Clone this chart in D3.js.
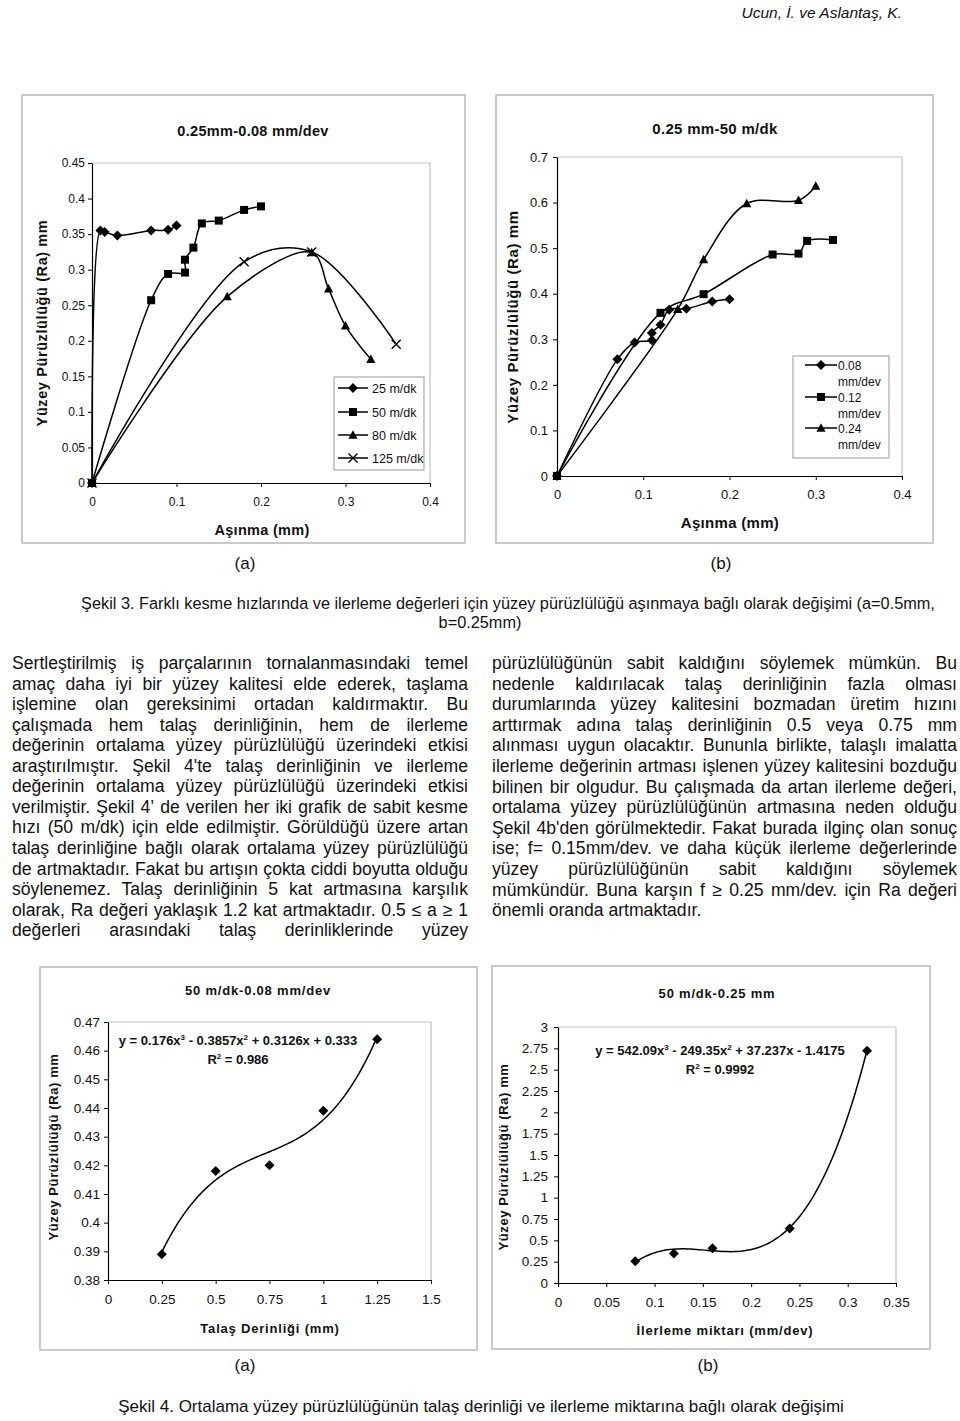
<!DOCTYPE html>
<html lang="tr">
<head>
<meta charset="UTF-8">
<title>Şekil 3 ve Şekil 4</title>
<script src="https://d3js.org/d3.v7.min.js"></script>
<style>
  body { margin: 0; background: #fff; }
  svg text { font-family: "Liberation Sans", Arial, sans-serif; fill: #111; }
</style>
</head>
<body>
<div id="page"></div>
<script>
// ---- Şekil 3a: 0.25mm-0.08 mm/dev (kesme hızları) ----
var wear25 = [0, 0.01, 0.015, 0.03, 0.07, 0.09, 0.1];
var ra25   = [0, 0.355, 0.353, 0.348, 0.355, 0.356, 0.362];
var wear50 = [0, 0.07, 0.09, 0.11, 0.11, 0.12, 0.13, 0.15, 0.18, 0.2];
var ra50   = [0, 0.257, 0.294, 0.296, 0.314, 0.331, 0.365, 0.369, 0.384, 0.389];
var wear80 = [0, 0.16, 0.26, 0.28, 0.3, 0.33];
var ra80   = [0, 0.262, 0.324, 0.273, 0.221, 0.174];
var wear125 = [0, 0.18, 0.26, 0.36];
var ra125   = [0, 0.311, 0.325, 0.195];
var speedNames = ["25 m/dk", "50 m/dk", "80 m/dk", "125 m/dk"];

// ---- Şekil 3b: 0.25 mm-50 m/dk (ilerleme değerleri) ----
var wear008 = [0, 0.07, 0.09, 0.11, 0.11, 0.12, 0.13, 0.15, 0.18, 0.2];
var ra008   = [0, 0.256, 0.293, 0.298, 0.314, 0.332, 0.365, 0.367, 0.383, 0.388];
var wear012 = [0, 0.12, 0.17, 0.25, 0.28, 0.29, 0.32];
var ra012   = [0, 0.358, 0.399, 0.486, 0.488, 0.516, 0.518];
var wear024 = [0, 0.14, 0.17, 0.22, 0.28, 0.3];
var ra024   = [0, 0.366, 0.475, 0.598, 0.605, 0.636];
var feedNames = [["0.08", "mm/dev"], ["0.12", "mm/dev"], ["0.24", "mm/dev"]];

// ---- Şekil 4a: 50 m/dk-0.08 mm/dev ----
var depth  = [0.25, 0.5, 0.75, 1, 1.25];
var raDepth = [0.389, 0.418, 0.42, 0.439, 0.464];
var fitDepth = [0.176, -0.3857, 0.3126, 0.333];   // y = ax3 + bx2 + cx + d
var r2Depth = "0.986";

// ---- Şekil 4b: 50 m/dk-0.25 mm ----
var feed   = [0.08, 0.12, 0.16, 0.24, 0.32];
var raFeed = [0.255, 0.345, 0.407, 0.638, 2.722];
var fitFeed = [542.09, -249.35, 37.237, -1.4175];
var r2Feed = "0.9992";

// tick labels
var xTicks3 = [0, 0.1, 0.2, 0.3, 0.4];
var yTicks3a = [0, 0.05, 0.1, 0.15, 0.2, 0.25, 0.3, 0.35, 0.4, 0.45];
var yTicks3b = [0, 0.1, 0.2, 0.3, 0.4, 0.5, 0.6, 0.7];
var xTicks4a = [0, 0.25, 0.5, 0.75, 1, 1.25, 1.5];
var yTicks4a = [0.38, 0.39, 0.4, 0.41, 0.42, 0.43, 0.44, 0.45, 0.46, 0.47];
var xTicks4b = [0, 0.05, 0.1, 0.15, 0.2, 0.25, 0.3, 0.35];
var yTicks4b = [0, 0.25, 0.5, 0.75, 1, 1.25, 1.5, 1.75, 2, 2.25, 2.5, 2.75, 3];

var leftText = [
  "Sertleştirilmiş iş parçalarının tornalanmasındaki temel",
  "amaç daha iyi bir yüzey kalitesi elde ederek, taşlama",
  "işlemine olan gereksinimi ortadan kaldırmaktır. Bu",
  "çalışmada hem talaş derinliğinin, hem de ilerleme",
  "değerinin ortalama yüzey pürüzlülüğü üzerindeki etkisi",
  "araştırılmıştır. Şekil 4'te talaş derinliğinin ve ilerleme",
  "değerinin ortalama yüzey pürüzlülüğü üzerindeki etkisi",
  "verilmiştir. Şekil 4’ de verilen her iki grafik de sabit kesme",
  "hızı (50 m/dk) için elde edilmiştir. Görüldüğü üzere artan",
  "talaş derinliğine bağlı olarak ortalama yüzey pürüzlülüğü",
  "de artmaktadır. Fakat bu artışın çokta ciddi boyutta olduğu",
  "söylenemez. Talaş derinliğinin 5 kat artmasına karşılık",
  "olarak, Ra değeri yaklaşık 1.2 kat artmaktadır. 0.5 ≤ a ≥ 1",
  "değerleri arasındaki talaş derinliklerinde yüzey"
];
var rightText = [
  "pürüzlülüğünün sabit kaldığını söylemek mümkün. Bu",
  "nedenle kaldırılacak talaş derinliğinin fazla olması",
  "durumlarında yüzey kalitesini bozmadan üretim hızını",
  "arttırmak adına talaş derinliğinin 0.5 veya 0.75 mm",
  "alınması uygun olacaktır. Bununla birlikte, talaşlı imalatta",
  "ilerleme değerinin artması işlenen yüzey kalitesini bozduğu",
  "bilinen bir olgudur. Bu çalışmada da artan ilerleme değeri,",
  "ortalama yüzey pürüzlülüğünün artmasına neden olduğu",
  "Şekil 4b'den görülmektedir. Fakat burada ilginç olan sonuç",
  "ise; f= 0.15mm/dev. ve daha küçük ilerleme değerlerinde",
  "yüzey pürüzlülüğünün sabit kaldığını söylemek",
  "mümkündür. Buna karşın f ≥ 0.25 mm/dev. için Ra değeri",
  "önemli oranda artmaktadır."
];

var page = d3.select("#page").append("svg")
  .attr("width", 960).attr("height", 1421).style("display", "block");
page.append("rect").attr("width", 960).attr("height", 1421).attr("fill", "#fff");

var fmt = function(d) { return String(+d.toFixed(2)); };
var yLabel = "Yüzey Pürüzlülüğü (Ra) mm";

function symPath(type, r) {
  if (type === "diamond") return "M0," + (-r) + "L" + r + ",0L0," + r + "L" + (-r) + ",0Z";
  if (type === "square") return "M" + (-r) + "," + (-r) + "H" + r + "V" + r + "H" + (-r) + "Z";
  if (type === "triangle") return "M0," + (-r * 1.05) + "L" + r + "," + (r * 0.8) + "L" + (-r) + "," + (r * 0.8) + "Z";
  return "M" + (-r) + "," + (-r) + "L" + r + "," + r + "M" + (-r) + "," + r + "L" + r + "," + (-r);
}
function drawSym(g, type, r, px, py) {
  var p = g.append("path").attr("d", symPath(type, r))
    .attr("transform", "translate(" + px + "," + py + ")");
  if (type === "x") p.attr("fill", "none").attr("stroke", "#000").attr("stroke-width", 1.4);
  else p.attr("fill", "#000");
}

function drawChart(c) {
  var g = page.append("g");
  g.append("rect").attr("x", c.frame[0]).attr("y", c.frame[1])
    .attr("width", c.frame[2]).attr("height", c.frame[3])
    .attr("fill", "none").attr("stroke", "#b8b8b8").attr("stroke-width", 1.5);

  var x = d3.scaleLinear().domain(c.xDom).range([c.plot[0], c.plot[1]]);
  var y = d3.scaleLinear().domain(c.yDom).range([c.plot[3], c.plot[2]]);

  g.append("path")
    .attr("d", "M" + c.plot[0] + "," + c.plot[2] + "H" + c.plot[1] + "V" + c.plot[3])
    .attr("fill", "none").attr("stroke", "#c4c4c4").attr("stroke-width", 1.2);

  var ya = g.append("g").attr("transform", "translate(" + c.plot[0] + ",0)")
    .call(d3.axisLeft(y).tickValues(c.yTicks).tickFormat(fmt).tickSize(4).tickSizeOuter(0).tickPadding(c.yPad));
  var xa = g.append("g").attr("transform", "translate(0," + c.plot[3] + ")")
    .call(d3.axisBottom(x).tickValues(c.xTicks).tickFormat(fmt).tickSize(4).tickSizeOuter(0).tickPadding(c.xPad));
  [ya, xa].forEach(function(a) {
    a.selectAll("text").style("font-size", c.tickFs + "px");
    a.select(".domain").attr("stroke", "#000").attr("stroke-width", 1.2);
    a.selectAll(".tick line").attr("stroke", "#000");
  });

  // series
  c.series.forEach(function(s) {
    var line = d3.line()
      .x(function(d, i) { return x(s.x[i]); })
      .y(function(d, i) { return y(s.y[i]); })
      .curve(d3.curveCatmullRom.alpha(0.5));
    if (s.line) {
      g.append("path").datum(s.y).attr("d", line)
        .attr("fill", "none").attr("stroke", "#000").attr("stroke-width", 1.5);
    }
    s.x.forEach(function(v, i) { drawSym(g, s.sym, s.r, x(v), y(s.y[i])); });
  });

  // polynomial trend line from the fitted coefficients shown on the chart
  if (c.trend) {
    var k = c.trend.k;
    var poly = function(v) { return k[0] * v * v * v + k[1] * v * v + k[2] * v + k[3]; };
    var xs = d3.range(0, 81).map(function(i) { return c.trend.from + (c.trend.to - c.trend.from) * i / 80; });
    g.append("path").datum(xs)
      .attr("d", d3.line().x(function(v) { return x(v); }).y(function(v) { return y(poly(v)); }))
      .attr("fill", "none").attr("stroke", "#000").attr("stroke-width", 1.5);

    var eq = g.append("text").attr("x", c.trend.tx).attr("y", c.trend.ty)
      .attr("text-anchor", "middle").style("font-size", c.trend.fs + "px").style("font-weight", "bold");
    var sign = function(v) { return v < 0 ? " - " : " + "; };
    eq.append("tspan").text("y = " + k[0] + "x");
    eq.append("tspan").attr("dy", -5).style("font-size", "8px").text("3");
    eq.append("tspan").attr("dy", 5).text(sign(k[1]) + Math.abs(k[1]) + "x");
    eq.append("tspan").attr("dy", -5).style("font-size", "8px").text("2");
    eq.append("tspan").attr("dy", 5).text(sign(k[2]) + Math.abs(k[2]) + "x" + sign(k[3]) + Math.abs(k[3]));

    var r2 = g.append("text").attr("x", c.trend.tx).attr("y", c.trend.ty + 19)
      .attr("text-anchor", "middle").style("font-size", c.trend.fs + "px").style("font-weight", "bold");
    r2.append("tspan").text("R");
    r2.append("tspan").attr("dy", -5).style("font-size", "8px").text("2");
    r2.append("tspan").attr("dy", 5).text(" = " + c.trend.r2);
  }

  // titles
  g.append("text").attr("x", c.title[1]).attr("y", c.title[2]).attr("text-anchor", "middle")
    .style("font-size", c.titleFs + "px").style("font-weight", "bold")
    .style("letter-spacing", c.ls + "px").text(c.title[0]);
  g.append("text").attr("x", c.xTitle[1]).attr("y", c.xTitle[2]).attr("text-anchor", "middle")
    .style("font-size", c.titleFs + "px").style("font-weight", "bold")
    .style("letter-spacing", c.ls + "px").text(c.xTitle[0]);
  g.append("text").attr("transform", "translate(" + c.yTitle[0] + "," + c.yTitle[1] + ") rotate(-90)")
    .attr("text-anchor", "middle").attr("dy", "0.35em")
    .style("font-size", c.titleFs + "px").style("font-weight", "bold")
    .style("letter-spacing", "0.6px").text(yLabel);

  // legend
  if (c.legend) {
    var L = c.legend;
    g.append("rect").attr("x", L.box[0]).attr("y", L.box[1]).attr("width", L.box[2]).attr("height", L.box[3])
      .attr("fill", "#fff").attr("stroke", "#999").attr("stroke-width", 1);
    c.series.forEach(function(s, i) {
      var ly = L.rowY[i];
      g.append("line").attr("x1", L.lx[0]).attr("x2", L.lx[1]).attr("y1", ly).attr("y2", ly)
        .attr("stroke", "#000").attr("stroke-width", 1.5);
      drawSym(g, s.sym, s.r, (L.lx[0] + L.lx[1]) / 2, ly);
      var names = [].concat(L.names[i]);
      names.forEach(function(n, j) {
        g.append("text").attr("x", L.tx).attr("y", ly + 4.5 + j * L.sub)
          .style("font-size", L.fs + "px").text(n);
      });
    });
  }
}

// Şekil 3a
drawChart({
  frame: [22, 95, 443, 448], plot: [92, 430, 163, 483],
  xDom: [0, 0.4], yDom: [0, 0.45], xTicks: xTicks3, yTicks: yTicks3a,
  tickFs: 12, yPad: 3, xPad: 10, titleFs: 14.5, ls: 0.3,
  title: ["0.25mm-0.08 mm/dev", 253, 136], xTitle: ["Aşınma (mm)", 262, 535], yTitle: [42, 323],
  series: [
    {x: wear25, y: ra25, sym: "diamond", r: 5, line: true},
    {x: wear50, y: ra50, sym: "square", r: 4, line: true},
    {x: wear80, y: ra80, sym: "triangle", r: 4.6, line: true},
    {x: wear125, y: ra125, sym: "x", r: 4.5, line: true}
  ],
  legend: {box: [334, 377, 90, 93], rowY: [388, 412, 435, 458], lx: [338, 368], tx: 372,
           fs: 12.5, sub: 0, names: speedNames}
});

// Şekil 3b
drawChart({
  frame: [496, 95, 437, 448], plot: [557, 902, 157, 476],
  xDom: [0, 0.4], yDom: [0, 0.7], xTicks: xTicks3, yTicks: yTicks3b,
  tickFs: 13, yPad: 5, xPad: 10, titleFs: 15, ls: 0.3,
  title: ["0.25 mm-50 m/dk", 715, 134], xTitle: ["Aşınma (mm)", 730, 528], yTitle: [513, 317],
  series: [
    {x: wear008, y: ra008, sym: "diamond", r: 5, line: true},
    {x: wear012, y: ra012, sym: "square", r: 4, line: true},
    {x: wear024, y: ra024, sym: "triangle", r: 4.6, line: true}
  ],
  legend: {box: [793, 356, 96, 102], rowY: [365, 397, 428], lx: [805, 837], tx: 838,
           fs: 12, sub: 16.5, names: feedNames}
});

// Şekil 4a
drawChart({
  frame: [40, 967, 437, 383], plot: [108, 431, 1022, 1280],
  xDom: [0, 1.5], yDom: [0.38, 0.47], xTicks: xTicks4a, yTicks: yTicks4a,
  tickFs: 13.5, yPad: 4, xPad: 10, titleFs: 13, ls: 0.8,
  title: ["50 m/dk-0.08 mm/dev", 258, 995], xTitle: ["Talaş Derinliği (mm)", 270, 1333], yTitle: [53, 1147],
  series: [{x: depth, y: raDepth, sym: "diamond", r: 5, line: false}],
  trend: {k: fitDepth, from: 0.25, to: 1.25, r2: r2Depth, tx: 238, ty: 1045, fs: 13}
});

// Şekil 4b
drawChart({
  frame: [492, 966, 438, 383], plot: [558, 896, 1027, 1283],
  xDom: [0, 0.35], yDom: [0, 3], xTicks: xTicks4b, yTicks: yTicks4b,
  tickFs: 13.5, yPad: 6, xPad: 10, titleFs: 13, ls: 0.8,
  title: ["50 m/dk-0.25 mm", 717, 998], xTitle: ["İlerleme miktarı (mm/dev)", 725, 1335], yTitle: [503, 1157],
  series: [{x: feed, y: raFeed, sym: "diamond", r: 5, line: false}],
  trend: {k: fitFeed, from: 0.08, to: 0.32, r2: r2Feed, tx: 720, ty: 1055, fs: 13}
});

// header and captions
page.append("text").attr("x", 902).attr("y", 18).attr("text-anchor", "end")
  .style("font-style", "italic").style("font-size", "15.5px").text("Ucun, İ. ve Aslantaş, K.");

function caption(t, x, y, fs) {
  return page.append("text").attr("x", x).attr("y", y).attr("text-anchor", "middle")
    .style("font-size", fs + "px").text(t);
}
caption("(a)", 245, 569, 17);
caption("(b)", 721, 569, 17);
caption("Şekil 3. Farklı kesme hızlarında ve ilerleme değerleri için yüzey pürüzlülüğü aşınmaya bağlı olarak değişimi (a=0.5mm,", 508, 609, 16.3);
caption("b=0.25mm)", 480, 628, 16.3);
caption("(a)", 245, 1371, 17);
caption("(b)", 708, 1371, 17);
caption("Şekil 4. Ortalama yüzey pürüzlülüğünün talaş derinliği ve ilerleme miktarına bağlı olarak değişimi", 481, 1412, 17);

// justified body text
function paragraph(lines, x0, width, y0, lh, fs, justifyLast) {
  var g = page.append("g").style("font-size", fs + "px");
  lines.forEach(function(line, i) {
    var words = line.split(" ");
    var yy = y0 + i * lh;
    var last = (i === lines.length - 1) && !justifyLast;
    var nodes = words.map(function(w) { return g.append("text").attr("y", yy).text(w); });
    var widths = nodes.map(function(n) { return n.node().getComputedTextLength(); });
    var gap = (last || words.length < 2) ? fs * 0.278 : (width - d3.sum(widths)) / (words.length - 1);
    var cx = x0;
    nodes.forEach(function(n, j) { n.attr("x", cx); cx += widths[j] + gap; });
  });
}
paragraph(leftText, 12, 456, 669, 20.55, 17.6, true);
paragraph(rightText, 492, 465, 669, 20.6, 17.6, false);
</script>
</body>
</html>
